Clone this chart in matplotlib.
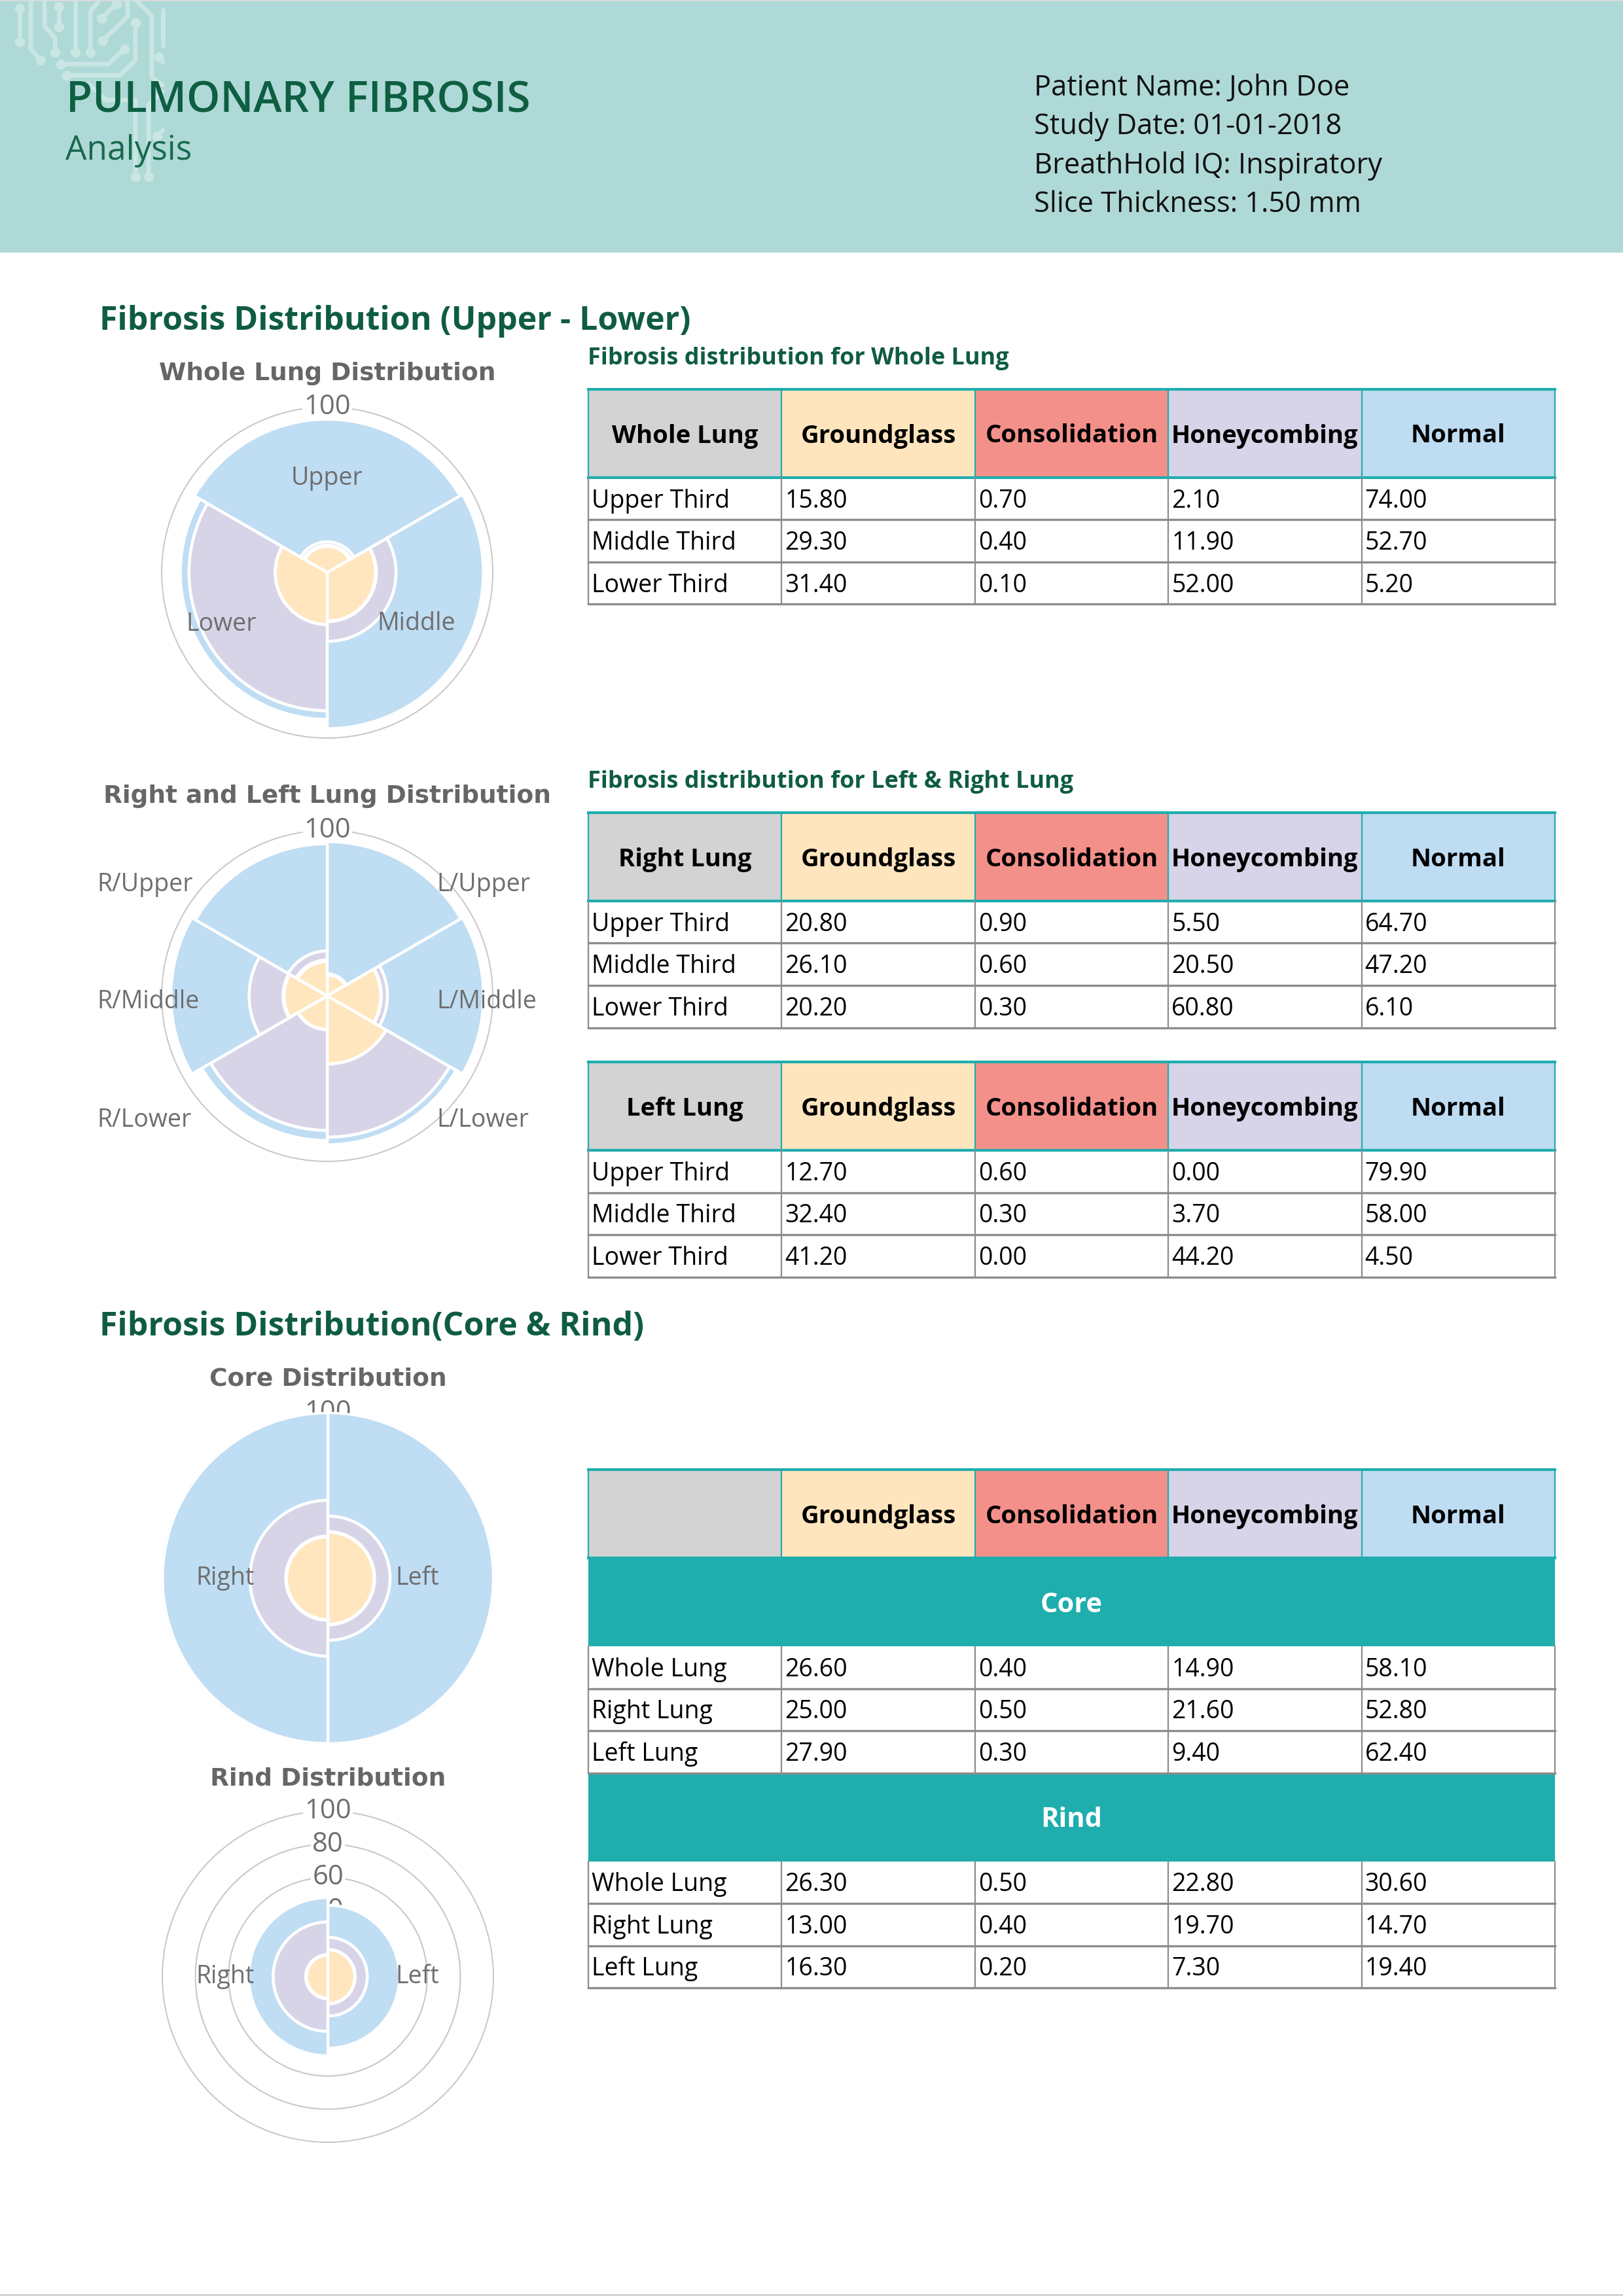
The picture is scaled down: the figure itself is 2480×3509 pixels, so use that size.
import matplotlib
matplotlib.use('Agg')
import matplotlib.pyplot as plt
import numpy as np
from matplotlib.patches import Rectangle

plt.rcParams['font.family'] = ['Open Sans', 'DejaVu Sans']

# ---- data ----
components = ['Groundglass', 'Consolidation', 'Honeycombing', 'Normal']
thirds = ['Upper Third', 'Middle Third', 'Lower Third']
lung_rows = ['Whole Lung', 'Right Lung', 'Left Lung']

# rows: upper, middle, lower ; cols: groundglass, consolidation, honeycombing, normal
whole_lung = [[15.80, 0.70, 2.10, 74.00],
              [29.30, 0.40, 11.90, 52.70],
              [31.40, 0.10, 52.00, 5.20]]
right_lung = [[20.80, 0.90, 5.50, 64.70],
              [26.10, 0.60, 20.50, 47.20],
              [20.20, 0.30, 60.80, 6.10]]
left_lung = [[12.70, 0.60, 0.00, 79.90],
             [32.40, 0.30, 3.70, 58.00],
             [41.20, 0.00, 44.20, 4.50]]
# rows: whole, right, left
core = [[26.60, 0.40, 14.90, 58.10],
        [25.00, 0.50, 21.60, 52.80],
        [27.90, 0.30, 9.40, 62.40]]
rind = [[26.30, 0.50, 22.80, 30.60],
        [13.00, 0.40, 19.70, 14.70],
        [16.30, 0.20, 7.30, 19.40]]

whole_sectors = ['Upper', 'Middle', 'Lower']
rl_sectors = ['L/Upper', 'L/Middle', 'L/Lower', 'R/Lower', 'R/Middle', 'R/Upper']
half_sectors = ['Left', 'Right']
radial_ticks = [20, 40, 60, 80, 100]

# ---- styles ----
bar_colors = ['#ffe6be', '#f4908a', '#d8d4e8', '#bfddf3']
head_colors = ['#d3d3d3', '#ffe5bd', '#f4908a', '#d7d3e8', '#bedcf2']
teal = '#1fadad'
dark_green = '#0f5c43'
label_gray = '#6e6e6e'

W, H = 2480, 3509
fig = plt.figure(figsize=(24.8, 35.09), dpi=100)
bg = fig.add_axes([0, 0, 1, 1])
bg.set_xlim(0, W)
bg.set_ylim(H, 0)
bg.axis('off')

# header band
bg.add_patch(Rectangle((0, 0), W, 386, fc='#aed9d7', ec='none'))
bg.plot([0, W], [1, 1], color='#d9d9d9', lw=1.5)
bg.plot([0, W], [H - 2, H - 2], color='#d0d0d0', lw=2)

# circuit watermark
circuit = [
    ([(30, 13), (30, 64)], [0, 1]),
    ([(47, 0), (47, 75), (62, 92)], [2]),
    ([(68, 0), (68, 40), (84, 58), (84, 80)], [3]),
    ([(90, 10), (90, 41)], [0, 1]),
    ([(115, 0), (115, 80)], [1]),
    ([(150, 3), (138, 17), (138, 80)], [2]),
    ([(155, 28), (178, 6)], [0, 1]),
    ([(157, 62), (195, 25), (195, 0)], [0]),
    ([(93, 98), (165, 98), (190, 75)], [0, 2]),
    ([(102, 115), (183, 115), (207, 92), (207, 35)], [0, 3]),
    ([(207, 0), (232, 24), (232, 118), (248, 130)], []),
    ([(249, 15), (249, 70)], []),
    ([(243, 87), (249, 95)], [0]),
    ([(135, 128), (162, 153), (207, 153), (207, 270)], [3]),
    ([(248, 140), (227, 160), (227, 270)], [2]),
    ([(240, 208), (249, 199)], [0]),
]
for pts, dots in circuit:
    xs = [p[0] for p in pts]
    ys = [p[1] for p in pts]
    bg.plot(xs, ys, color='#c9e6e3', lw=5, solid_capstyle='round', solid_joinstyle='round')
    for d in dots:
        bg.plot(xs[d], ys[d], 'o', color='#c9e6e3', ms=11, mec='none')

bg.text(101, 171, 'PULMONARY FIBROSIS', fontsize=47, weight='semibold', color='#0e5e42')
bg.text(100, 244, 'Analysis', fontsize=37, color='#17694b')
patient = ['Patient Name: John Doe', 'Study Date: 01-01-2018',
           'BreathHold IQ: Inspiratory', 'Slice Thickness: 1.50 mm']
for i, line in enumerate(patient):
    bg.text(1580, 146 + i * 59.3, line, fontsize=31.3, color='#111111')

bg.text(152, 504, 'Fibrosis Distribution (Upper - Lower)', fontsize=36, weight='bold', color=dark_green)
bg.text(152, 2041, 'Fibrosis Distribution(Core & Rind)', fontsize=36, weight='bold', color=dark_green)
bg.text(898, 557, 'Fibrosis distribution for Whole Lung', fontsize=25.9, weight='bold', color=dark_green)
bg.text(898, 1204, 'Fibrosis distribution for Left & Right Lung', fontsize=25.9, weight='bold', color=dark_green)

# ---- tables ----
col_x = np.linspace(899, 2376, 6)
col_w = col_x[1] - col_x[0]
HEAD_H = 135
ROW_H = 64.5


def header_row(y0, corner):
    labels = [corner] + components
    for j in range(5):
        bg.add_patch(Rectangle((col_x[j], y0), col_w, HEAD_H, fc=head_colors[j], ec='none'))
        bg.text(col_x[j] + col_w / 2, y0 + HEAD_H / 2 + 14, labels[j], ha='center', va='baseline',
                fontsize=27.5, weight='bold', color='black')
    for x in col_x:
        bg.plot([x, x], [y0, y0 + HEAD_H], color=teal, lw=1.6)
    bg.plot([col_x[0], col_x[-1]], [y0, y0], color=teal, lw=3)
    bg.plot([col_x[0], col_x[-1]], [y0 + HEAD_H, y0 + HEAD_H], color=teal, lw=3)
    return y0 + HEAD_H


def band_row(y0, label):
    bg.add_patch(Rectangle((col_x[0], y0), col_x[-1] - col_x[0], HEAD_H, fc=teal, ec='none'))
    bg.text((col_x[0] + col_x[-1]) / 2, y0 + HEAD_H / 2 + 15, label, ha='center', va='baseline',
            fontsize=30, weight='bold', color='white')
    return y0 + HEAD_H


def data_rows(y0, labels, values):
    for i, (lab, vals) in enumerate(zip(labels, values)):
        y = y0 + i * ROW_H
        cells = [lab] + ['%.2f' % v for v in vals]
        for j, c in enumerate(cells):
            bg.text(col_x[j] + 5, y + ROW_H / 2 + 13.5, c, ha='left', va='baseline',
                    fontsize=27, color='black')
    y1 = y0 + len(labels) * ROW_H
    for x in col_x:
        bg.plot([x, x], [y0, y1], color='#8c8c8c', lw=1.6)
    for i in range(1, len(labels) + 1):
        bg.plot([col_x[0], col_x[-1]], [y0 + i * ROW_H] * 2, color='#8c8c8c', lw=2.4)
    return y1


y = header_row(595, 'Whole Lung')
data_rows(y, thirds, whole_lung)
y = header_row(1242, 'Right Lung')
data_rows(y, thirds, right_lung)
y = header_row(1623, 'Left Lung')
data_rows(y, thirds, left_lung)
y = header_row(2246, '')
y = band_row(y, 'Core')
y = data_rows(y, lung_rows, core)
y = band_row(y, 'Rind')
data_rows(y, lung_rows, rind)

# ---- rose charts ----
R = 253
RMAX = 100.5


def rose(cx, cy, centers, width, rows, title, title_y):
    r_ax = R * RMAX / 100
    ax = fig.add_axes([(cx - r_ax) / W, 1 - (cy + r_ax) / H, 2 * r_ax / W, 2 * r_ax / H],
                      projection='polar')
    ax.set_theta_zero_location('N')
    ax.set_theta_direction(-1)
    ax.set_facecolor('none')
    theta = np.deg2rad(centers)
    bottom = np.zeros(len(rows))
    for k in range(4):
        vals = np.array([r[k] for r in rows])
        ax.bar(theta, vals, width=np.deg2rad(width), bottom=bottom, color=bar_colors[k],
               edgecolor='white', linewidth=3.2, zorder=2)
        bottom += vals
    ax.set_ylim(0, RMAX)
    ax.set_xticks([])
    ax.set_yticks(radial_ticks)
    ax.set_yticklabels([])
    ax.tick_params(axis='y', length=0)
    ax.xaxis.grid(False)
    ax.yaxis.grid(True, color='#c8c8c8', lw=1.5)
    ax.set_axisbelow(True)
    ax.spines['polar'].set_visible(False)
    # tick values deep under the bars are hidden anyway; only label the ones near or past the top
    for t in radial_ticks:
        if t >= bottom.max() - 8:
            ax.text(0, t, str(t), ha='center', va='center', fontsize=30, color=label_gray, zorder=1.5,
                    bbox=dict(fc='white', ec='none', pad=1.5))
    bg.text(cx, title_y, title, ha='center', va='baseline', family='DejaVu Sans',
            weight='bold', fontsize=27, color='#666666')
    return ax


ax1 = rose(500, 875, [0, 120, 240], 120, whole_lung, 'Whole Lung Distribution', 581)
for name, ang, rr in zip(whole_sectors, [0, 120, 244], [57, 62, 71]):
    ax1.text(np.deg2rad(ang), rr, name, ha='center', va='center', fontsize=27,
             color=label_gray, zorder=3)

ax2 = rose(500, 1522, [30, 90, 150, 210, 270, 330], 60, left_lung + right_lung[::-1],
           'Right and Left Lung Distribution', 1227)
rl_pos = [(667, 1352), (667, 1531), (667, 1712), (148, 1712), (148, 1531), (148, 1352)]
for name, (px, py) in zip(rl_sectors, rl_pos):
    ax2.text(px, py, name, transform=bg.transData, ha='left', va='center', fontsize=27,
             color=label_gray, zorder=3)

ax3 = rose(501, 2412, [90, 270], 180, [core[2], core[1]], 'Core Distribution', 2117)
ax4 = rose(501, 3021, [90, 270], 180, [rind[2], rind[1]], 'Rind Distribution', 2728)
for ax in (ax3, ax4):
    for name, ang, rr in zip(half_sectors, [90, 270], [54, 62]):
        ax.text(np.deg2rad(ang), rr, name, ha='center', va='center', fontsize=27,
                color=label_gray, zorder=3)

fig.savefig('out.png', dpi=100)
